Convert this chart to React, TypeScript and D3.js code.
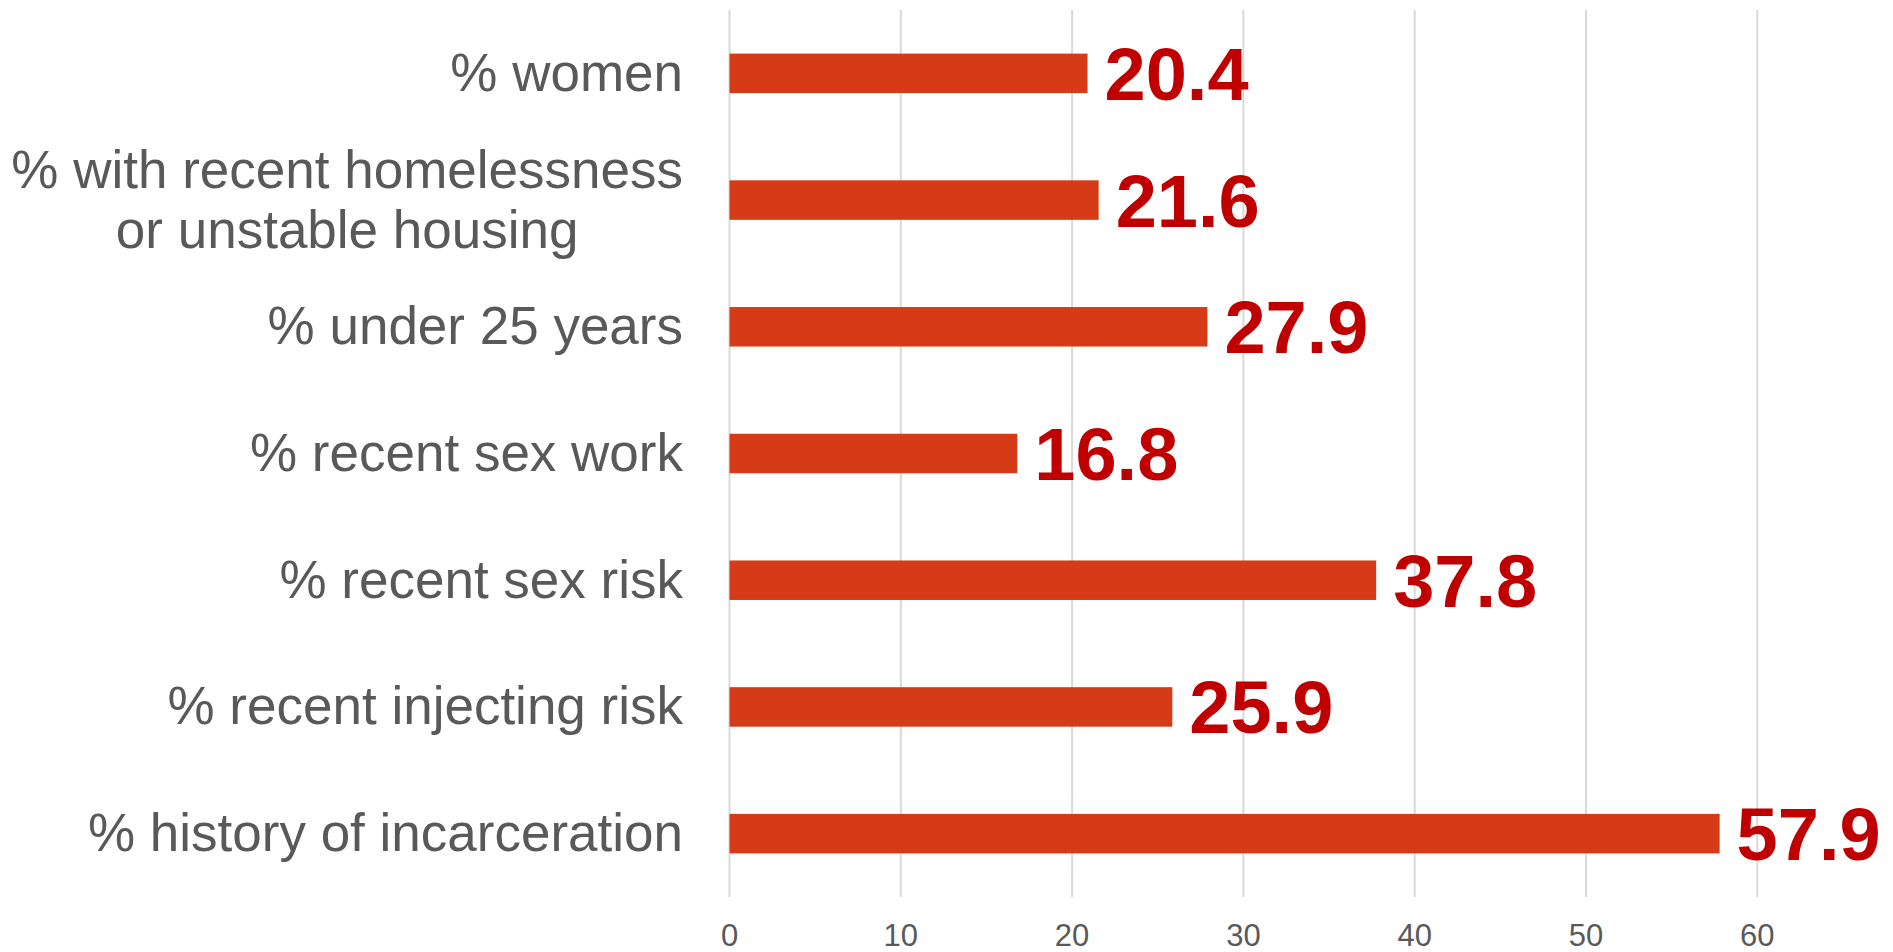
import React, { useEffect } from "react";
import * as d3 from "d3";

const categories: string[][] = [
  ["% women"],
  ["% with recent homelessness", "or unstable housing"],
  ["% under 25 years"],
  ["% recent sex work"],
  ["% recent sex risk"],
  ["% recent injecting risk"],
  ["% history of incarceration"],
];
const barValues: number[] = [20.9, 21.55, 27.9, 16.8, 37.75, 25.85, 57.8];
const valueLabels: string[] = ["20.4", "21.6", "27.9", "16.8", "37.8", "25.9", "57.9"];
const xTicks: number[] = [0, 10, 20, 30, 40, 50, 60];

const W = 1893;
const H = 952;
const x0 = 729.5;
const unit = 17.13;
const top = 10;
const bottom = 897;
const FONT = "'Liberation Sans', Arial, sans-serif";
const CAT_FS = 53;

function measure(text: string, size: number): number {
  if (typeof document === "undefined") return text.length * size * 0.5;
  const c = document.createElement("canvas").getContext("2d");
  if (!c) return text.length * size * 0.5;
  c.font = `${size}px 'Liberation Sans', Arial, sans-serif`;
  return c.measureText(text).width;
}

export default function App() {
  useEffect(() => {
    document.body.style.margin = "0";
  }, []);

  const x = d3.scaleLinear().domain([0, 10]).range([x0, x0 + unit * 10]);
  const y = d3
    .scaleBand<number>()
    .domain(d3.range(categories.length))
    .range([top, bottom])
    .paddingInner(0)
    .paddingOuter(0);
  const barH = 39.5;
  const labelRight = 683;

  return (
    <svg width={W} height={H} style={{ display: "block", background: "#fff" }} fontFamily={FONT}>
      {xTicks.map((t) => (
        <line key={t} x1={x(t)} x2={x(t)} y1={top} y2={bottom} stroke="#d9d9d9" strokeWidth={2} />
      ))}
      {xTicks.map((t) => (
        <text key={"t" + t} x={x(t)} y={946} textAnchor="middle" fontSize={31} fill="#595959">
          {t}
        </text>
      ))}
      {barValues.map((v, i) => {
        const cy = (y(i) as number) + y.bandwidth() / 2;
        return (
          <g key={i}>
            <rect x={x(0)} y={cy - barH / 2} width={x(v) - x(0)} height={barH} fill="#d63b17" />
            <text x={x(v) + 17} y={cy + 26.5} fontSize={74} fontWeight="bold" fill="#c00000">
              {valueLabels[i]}
            </text>
          </g>
        );
      })}
      {categories.map((lines, i) => {
        const cy = (y(i) as number) + y.bandwidth() / 2;
        const lh = 60;
        const fs = CAT_FS;
        const maxW = Math.max(...lines.map((l) => measure(l, fs)));
        const cx = labelRight - maxW / 2;
        return (
          <text key={"c" + i} textAnchor={lines.length > 1 ? "middle" : "end"} fontSize={fs} fill="#595959">
            {lines.map((l, j) => (
              <tspan
                key={j}
                x={lines.length > 1 ? cx : labelRight}
                y={cy + (j - (lines.length - 1) / 2) * lh + fs * 0.33}
              >
                {l}
              </tspan>
            ))}
          </text>
        );
      })}
    </svg>
  );
}
